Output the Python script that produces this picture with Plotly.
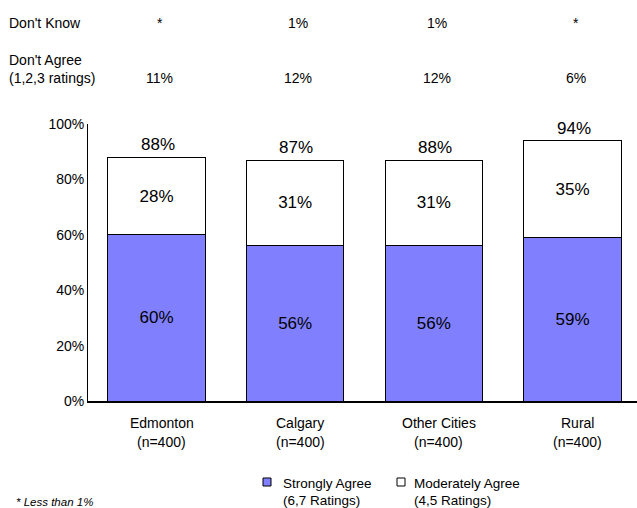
import plotly.graph_objects as go

categories = ["Edmonton", "Calgary", "Other Cities", "Rural"]
sample_sizes = ["(n=400)", "(n=400)", "(n=400)", "(n=400)"]
strongly = [60, 56, 56, 59]
moderately = [28, 31, 31, 35]
total_labels = ["88%", "87%", "88%", "94%"]
dont_know = ["*", "1%", "1%", "*"]
dont_agree = ["11%", "12%", "12%", "6%"]
y_ticks = [0, 20, 40, 60, 80, 100]
y_tick_labels = ["0%", "20%", "40%", "60%", "80%", "100%"]

FONT = "Liberation Sans, Arial, sans-serif"
BLUE = "#8080ff"
xs = list(range(len(categories)))

# plot area geometry (pixels)
L, R_EDGE, TOP, BOT = 88, 637, 124, 401
PW, PH = R_EDGE - L, BOT - TOP


def xp(pix):
    return (pix - L) / PW


def yp(pix):
    return (BOT - pix) / PH


fig = go.Figure()
fig.add_trace(go.Bar(
    x=xs, y=strongly, name="Strongly Agree",
    marker=dict(color=BLUE, line=dict(color="black", width=1)),
    width=0.70, text=[f"{v}%" for v in strongly], textposition="inside",
    insidetextanchor="middle", textfont=dict(size=17, color="black", family=FONT),
    hoverinfo="skip", showlegend=False,
))
fig.add_trace(go.Bar(
    x=xs, y=moderately, name="Moderately Agree",
    marker=dict(color="white", line=dict(color="black", width=1)),
    width=0.70, text=[f"{v}%" for v in moderately], textposition="inside",
    insidetextanchor="middle", textfont=dict(size=17, color="black", family=FONT),
    hoverinfo="skip", showlegend=False,
))

txt = dict(size=14, family=FONT, color="black")
annotations = []
for i, (s, m, t) in enumerate(zip(strongly, moderately, total_labels)):
    annotations.append(dict(x=i, y=s + m, xref="x", yref="y", text=t, showarrow=False, xshift=1,
                            yanchor="bottom", yshift=1, font=dict(size=17, family=FONT, color="black")))

for i, (c, n) in enumerate(zip(categories, sample_sizes)):
    annotations.append(dict(x=i, y=yp(423), xref="x", yref="paper", text=c, showarrow=False,
                            xshift=5, yanchor="middle", font=txt))
    annotations.append(dict(x=i, y=yp(442), xref="x", yref="paper", text=n, showarrow=False,
                            xshift=5, yanchor="middle", font=txt))

for i, t in enumerate(dont_know):
    annotations.append(dict(x=i, y=yp(23), xref="x", yref="paper", text=t, showarrow=False,
                            xshift=3, yanchor="middle", font=txt))
for i, t in enumerate(dont_agree):
    annotations.append(dict(x=i, y=yp(78), xref="x", yref="paper", text=t, showarrow=False,
                            xshift=3, yanchor="middle", font=txt))

annotations.append(dict(x=xp(7), y=yp(23), xref="paper", yref="paper", text="Don't Know",
                        showarrow=False, xanchor="left", yanchor="middle", font=txt))
annotations.append(dict(x=xp(7), y=yp(60), xref="paper", yref="paper", text="Don't Agree",
                        showarrow=False, xanchor="left", yanchor="middle", font=txt))
annotations.append(dict(x=xp(7), y=yp(78), xref="paper", yref="paper", text="(1,2,3 ratings)",
                        showarrow=False, xanchor="left", yanchor="middle", font=txt))
annotations.append(dict(x=xp(14), y=yp(502), xref="paper", yref="paper", text="<i>* Less than 1%</i>",
                        showarrow=False, xanchor="left", yanchor="middle",
                        font=dict(size=11.5, family=FONT, color="black")))

# legend (manual)
legend_items = [("Strongly Agree", "(6,7 Ratings)", BLUE, 263, 281),
                ("Moderately Agree", "(4,5 Ratings)", "white", 397, 412)]
shapes = []
for name, sub, col, sx, tx in legend_items:
    shapes.append(dict(type="rect", xref="paper", yref="paper", x0=xp(sx), x1=xp(sx + 8),
                       y0=yp(486), y1=yp(478), fillcolor=col, line=dict(color="black", width=1)))
    annotations.append(dict(x=xp(tx), y=yp(483), xref="paper", yref="paper", text=name, showarrow=False,
                            xanchor="left", yanchor="middle", font=dict(size=13.5, family=FONT, color="black")))
    annotations.append(dict(x=xp(tx), y=yp(500), xref="paper", yref="paper", text=sub, showarrow=False,
                            xanchor="left", yanchor="middle", font=dict(size=13.5, family=FONT, color="black")))

fig.update_layout(
    width=637, height=508,
    margin=dict(l=L, r=637 - R_EDGE, t=TOP, b=508 - BOT, autoexpand=False),
    plot_bgcolor="white", paper_bgcolor="white",
    barmode="stack",
    font=dict(family=FONT, size=14, color="black"),
    xaxis=dict(range=[-0.494, 3.465], tickvals=xs, showticklabels=False,
               showline=True, linecolor="black", linewidth=2, ticks="", showgrid=False, zeroline=False),
    yaxis=dict(range=[0, 100], tickvals=y_ticks, ticktext=y_tick_labels,
               showline=True, linecolor="black", linewidth=1, ticks="", showgrid=False, zeroline=False,
               tickfont=dict(size=14, family=FONT)),
    showlegend=False,
    annotations=annotations,
    shapes=shapes,
)

fig.write_html("out.html", config={"displayModeBar": False},
               post_script="document.body.style.margin='0';document.body.style.padding='0';")
